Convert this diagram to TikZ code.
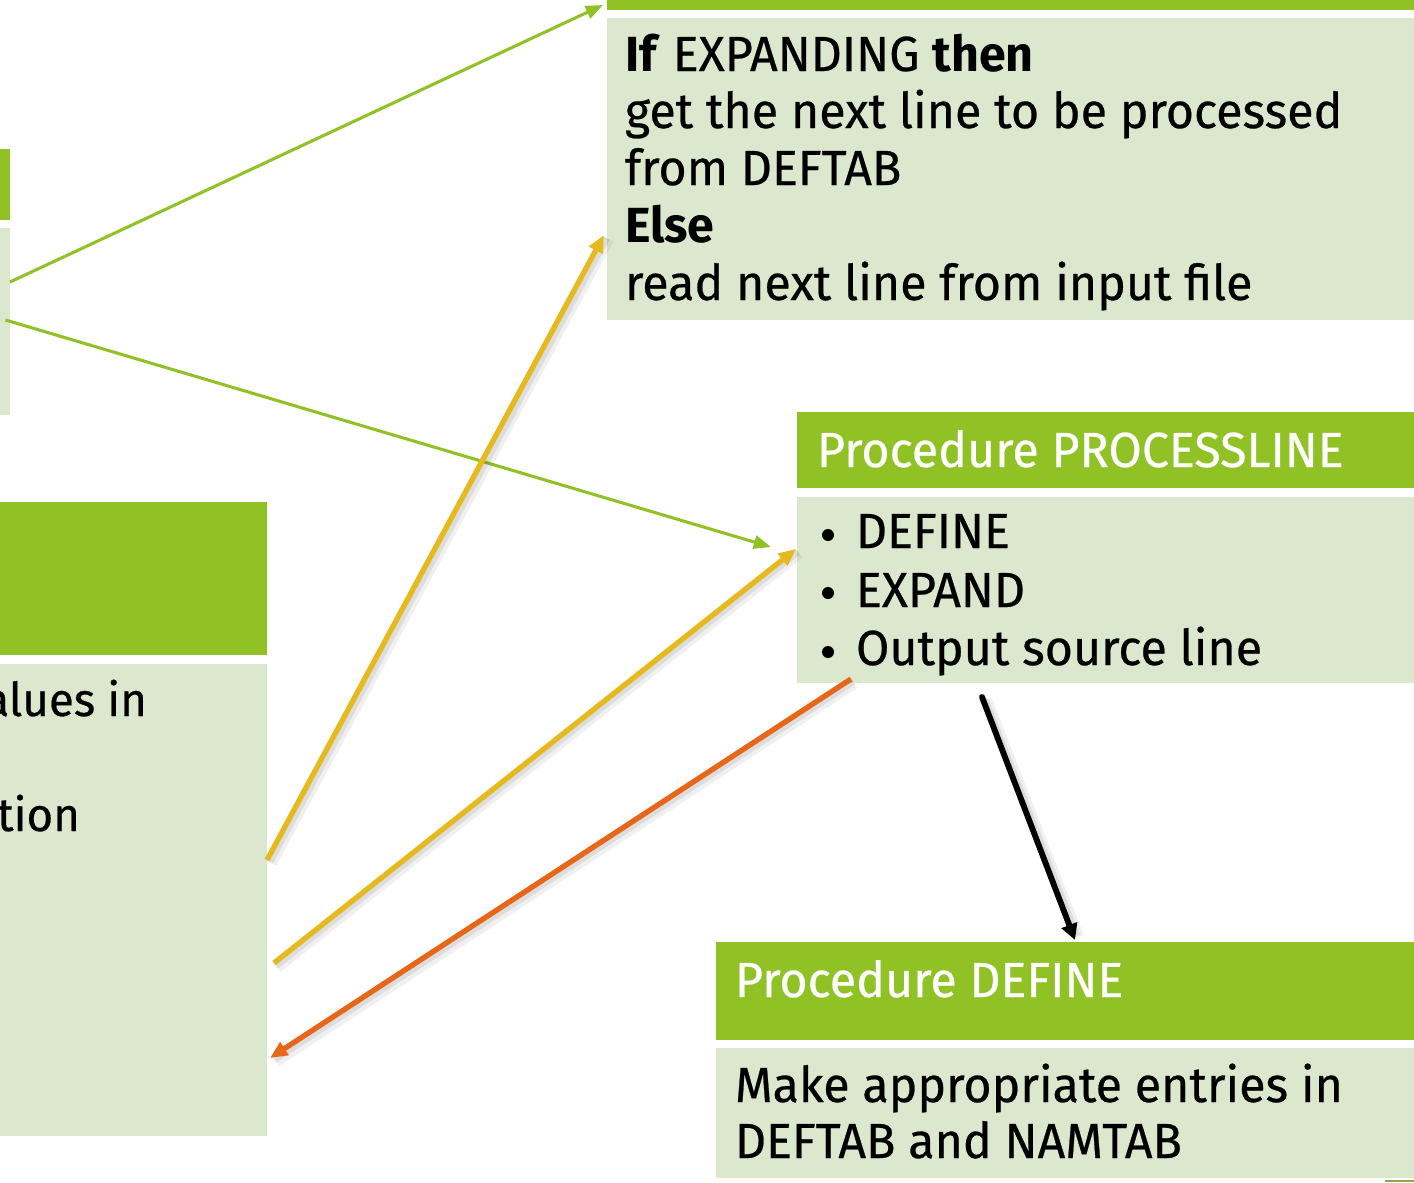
\documentclass[tikz,border=0pt]{standalone}
\usepackage{fontspec}
\setmainfont{Fira Sans}[FakeStretch=0.98, UprightFeatures={FakeBold=0.5}]
\usetikzlibrary{arrows.meta,calc,fit}
\definecolor{headgreen}{HTML}{90C226}
\definecolor{bodygreen}{RGB}{220,232,205}
\definecolor{arrowyellow}{HTML}{E6B91E}
\definecolor{arroworange}{HTML}{E76618}

\begin{document}
\begin{tikzpicture}[x=0.75pt,y=-0.75pt,
  headbar/.style={fill=headgreen, draw=none, inner sep=0, outer sep=0},
  bodybar/.style={fill=bodygreen, draw=none, inner sep=0, outer sep=0},
  txt/.style={anchor=base west, inner sep=0, outer sep=0, font=\fontsize{37}{44}\selectfont},
  headtxt/.style={txt, text=white},
  bulletdot/.style={circle, fill=black, draw=none, inner sep=0, minimum size=9pt},
  sidetxt/.style={anchor=base east, inner sep=0, outer sep=0, font=\fontsize{35}{42}\selectfont},
  greenlink/.style={draw=headgreen, line width=2.3pt, -{Triangle[length=13pt,width=10pt]}},
  yellowlink/.style={draw=arrowyellow, line width=4pt, -{Triangle[length=13pt,width=11pt]}},
  orangelink/.style={draw=arroworange, line width=4pt, -{Triangle[length=13pt,width=11pt]}},
  blacklink/.style={draw=black, line width=4.4pt, -{Triangle[length=12pt,width=12pt]}},
  shadewide/.style={draw=black, opacity=0.06, line width=9pt},
  shadenarrow/.style={draw=black, opacity=0.08, line width=5pt}
]
\useasboundingbox (0,0) rectangle (1414,1182);
\clip (0,0) rectangle (1414,1182);

% left column panels (mostly off to the left)
\node[headbar, fit={(-400,149) (10,220)}] (leftHead) {};
\node[bodybar, fit={(-400,228) (10,415)}] (leftBody) {};
\node[headbar, fit={(-400,502) (267,655)}] (blHead) {};
\node[bodybar, fit={(-400,664) (267,1136)}] (blBody) {};
\node[sidetxt] (bl1) at (147,716) {alues in};
\node[sidetxt] (bl2) at (80,831) {tion};

% line-reading panel, top right
\node[headbar, fit={(607,-60) (1420,10)}] (topHead) {};
\node[bodybar, fit={(607,18) (1420,320)}] (topBody) {};
\node[txt] (t1) at (625,71) {\textbf{If} EXPANDING \textbf{then}};
\node[txt] (t2) at (625,128) {get the next line to be processed};
\node[txt] (t3) at (625,185) {from DEFTAB};
\node[txt] (t4) at (625,242) {\textbf{Else}};
\node[txt] (t5) at (625,300) {read next line from input file};

% PROCESSLINE panel
\node[headbar, fit={(797,412) (1420,488)}] (procHead) {};
\node[bodybar, fit={(797,497) (1420,683)}] (procBody) {};
\node[headtxt] (ph) at (817,467) {Procedure PROCESSLINE};
\node[bulletdot] (pb1) at (828,535) {};
\node[bulletdot] (pb2) at (828,593) {};
\node[bulletdot] (pb3) at (828,652) {};
\node[txt] (p1) at (856,548) {DEFINE};
\node[txt] (p2) at (856,607) {EXPAND};
\node[txt] (p3) at (856,665) {Output source line};

% DEFINE panel
\node[headbar, fit={(716,942) (1420,1040)}] (defHead) {};
\node[bodybar, fit={(716,1048) (1420,1178)}] (defBody) {};
\node[headtxt] (dh) at (735,997) {Procedure DEFINE};
\node[txt] (d1) at (735,1102) {Make appropriate entries in};
\node[txt] (d2) at (735,1158) {DEFTAB and NAMTAB};
\fill[headgreen!60!gray] (1385,1180) rectangle (1414,1182);

% calls from the left panel
\draw[greenlink] ($(leftBody.east)+(0,-39.5)$) -- ($(topHead.south west)+(-4,-5)$);
\draw[greenlink] ($(leftBody.east)+(-4.5,-1.5)$) -- ($(procBody.west)+(-26,-43)$);

% calls from the lower left panel, with soft shadows
\draw[shadewide] ($(blBody.east)+(4,-37)$) -- ($(topBody.west)+(1,70)$);
\draw[shadenarrow] ($(blBody.east)+(3,-38)$) -- ($(topBody.west)+(0,69)$);
\draw[yellowlink] ($(blBody.east)+(0,-40)$) -- ($(topBody.west)+(-3,66)$);
\draw[shadewide] ($(blBody.east)+(10,67)$) -- ($(procBody.west)+(2,-37)$);
\draw[shadenarrow] ($(blBody.east)+(9,66)$) -- ($(procBody.west)+(1,-38)$);
\draw[yellowlink] ($(blBody.east)+(7,63)$) -- ($(procBody.west)+(-1,-41)$);

% return to the lower left panel
\draw[shadewide] ($(procBody.south west)+(57,0)$) -- ($(blBody.east)+(9,161)$);
\draw[shadenarrow] ($(procBody.south west)+(56,-1)$) -- ($(blBody.east)+(7,160)$);
\draw[orangelink] ($(procBody.south west)+(54,-4)$) -- ($(blBody.east)+(3,158)$);

% PROCESSLINE calls DEFINE
\draw[shadewide] ($(procBody.south west)+(189,17)$) -- ($(defHead.north west)+(362,-5)$);
\draw[shadenarrow] ($(procBody.south west)+(188,16)$) -- ($(defHead.north west)+(361,-6)$);
\draw[blacklink, line cap=round] ($(procBody.south west)+(185,14)$) -- ($(defHead.north west)+(359,-2)$);
\end{tikzpicture}
\end{document}
